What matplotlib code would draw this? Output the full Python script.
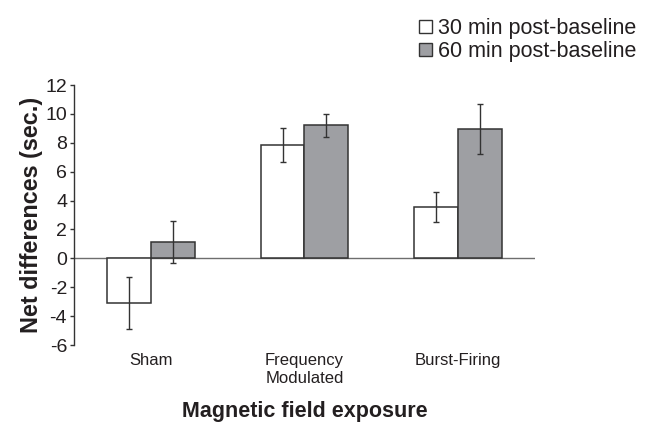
import numpy as np
import matplotlib.pyplot as plt
from matplotlib.patches import Rectangle

plt.rcParams['font.family'] = ['Liberation Sans', 'DejaVu Sans']
plt.rcParams['axes.unicode_minus'] = False

# Net differences in seconds, by exposure condition
conditions = ["Sham", "Frequency\nModulated", "Burst-Firing"]
series_names = ["30 min post-baseline", "60 min post-baseline"]
mean_30 = [-3.1, 7.85, 3.55]
mean_60 = [1.15, 9.2, 8.95]
err_30 = [1.8, 1.15, 1.05]
err_60 = [1.45, 0.77, 1.75]

TEXT = "#231f20"
GREY = "#9e9fa3"
EDGE = "#333333"


def main():
    fig = plt.figure(figsize=(6.47, 4.24), dpi=100)
    ax = fig.add_axes([0.1144, 0.1863, 0.7124, 0.6132])

    x = np.arange(len(conditions))
    w = 0.286
    err_kw = dict(ecolor=EDGE, elinewidth=1.0, capsize=2.2, capthick=1.0)
    ax.bar(x - w / 2, mean_30, w, yerr=err_30, color="white",
           edgecolor=EDGE, linewidth=1.1, error_kw=err_kw, zorder=2)
    ax.bar(x + w / 2, mean_60, w, yerr=err_60, color=GREY,
           edgecolor=EDGE, linewidth=1.1, error_kw=err_kw, zorder=2)

    ax.axhline(0, color="#6e6e6e", linewidth=1.0, zorder=1)

    ax.set_xlim(-0.5, 2.5)
    ax.set_ylim(-6, 12)
    ax.set_yticks(np.arange(-6, 13, 2))
    ax.set_xticks(x)
    ax.set_xticklabels(conditions, fontsize=12, color=TEXT, linespacing=1.2)
    ax.tick_params(axis="x", length=0, pad=6)
    ax.tick_params(axis="y", length=3, width=1.0, color=EDGE,
                   labelsize=14, labelcolor=TEXT, pad=2)

    for side in ["top", "right", "bottom"]:
        ax.spines[side].set_visible(False)
    ax.spines["left"].set_color(EDGE)
    ax.spines["left"].set_linewidth(1.0)

    ax.set_ylabel("Net differences (sec.)", fontsize=16.8, fontweight="bold",
                  color=TEXT, labelpad=2)
    ax.set_xlabel("Magnetic field exposure", fontsize=15.5, fontweight="bold",
                  color=TEXT, labelpad=11)

    handles = [Rectangle((0, 0), 1, 1, facecolor="white", edgecolor=EDGE, linewidth=1.0),
               Rectangle((0, 0), 1, 1, facecolor=GREY, edgecolor=EDGE, linewidth=1.0)]
    leg = fig.legend(handles, series_names, loc="upper left",
                     bbox_to_anchor=(0.647, 0.958), frameon=False,
                     fontsize=15.5, handlelength=0.6, handleheight=0.55,
                     handletextpad=0.3, labelspacing=0.1, borderpad=0,
                     borderaxespad=0)
    for t in leg.get_texts():
        t.set_color(TEXT)

    fig.savefig("out.png", dpi=100)


if __name__ == "__main__":
    main()
